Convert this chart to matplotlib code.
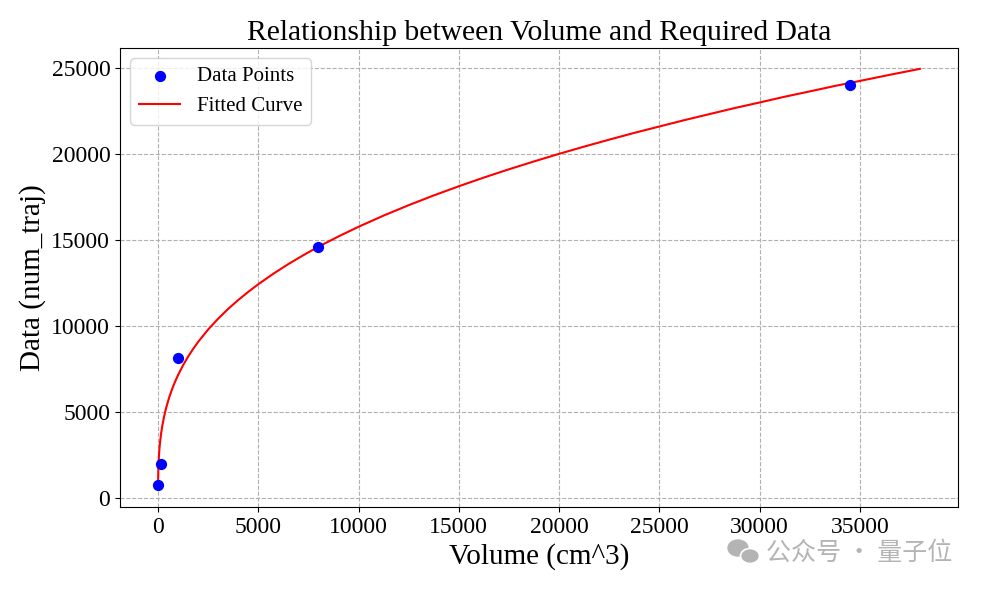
import matplotlib
matplotlib.use("Agg")
import matplotlib.pyplot as plt
from matplotlib.patches import Ellipse

# Data points
volume = [1, 125, 1000, 8000, 34500]
num_traj = [750, 1950, 8100, 14600, 24000]

# Fitted curve
curve_x = [1, 5, 10, 20, 30, 50, 75, 100, 150, 200, 300, 400, 550, 700, 850,
           1000, 1250, 1500, 1750, 2000, 2500, 3000, 3500, 4000, 4500, 5000,
           5750, 6500, 7250, 8000, 9000, 10000, 11250, 12500, 13750, 15000,
           16250, 17500, 18750, 20000, 21250, 22500, 23750, 25000, 26250,
           27500, 28750, 30000, 31250, 32500, 33750, 35000, 36500, 38000]
curve_y = [663, 1153, 1464, 1858, 2136, 2547, 2928, 3232, 3716, 4103, 4717,
           5207, 5811, 6313, 6749, 7135, 7706, 8205, 8652, 9059, 9783, 10414,
           10983, 11498, 11972, 12415, 13027, 13590, 14107, 14600, 15197,
           15760, 16410, 17016, 17583, 18117, 18624, 19105, 19562, 20003,
           20424, 20830, 21223, 21595, 21965, 22316, 22666, 22992, 23327,
           23637, 23953, 24247, 24605, 24950]

plt.rcParams['font.family'] = ['Liberation Serif', 'DejaVu Serif']

fig = plt.figure(figsize=(9.84, 5.92), dpi=100)
ax = fig.add_axes([120/984, 1-507/592, 838/984, 459/592])

ax.scatter(volume, num_traj, color='blue', s=50, label='Data Points', zorder=3)
ax.plot(curve_x, curve_y, color='red', lw=1.5, label='Fitted Curve', zorder=2)

ax.set_title('Relationship between Volume and Required Data', fontsize=21.3)
ax.set_xlabel('Volume (cm^3)', fontsize=21)
ax.set_ylabel('Data (num_traj)', fontsize=21)
ax.tick_params(labelsize=17)
ax.grid(True, linestyle='--', color='#b0b0b0', lw=0.8)
ax.legend(loc='upper left', fontsize=15)

# watermark
fig.text(952/984, 1-553/592, '公众号 · 量子位', ha='right', va='center', color='#b4b4b4',
         fontsize=18, family=['Noto Sans CJK SC', 'DejaVu Sans'])
fig.patches.append(Ellipse((738/984, 1-548/592), 20/984, 16/592, color='#b4b4b4',
                           transform=fig.transFigure, figure=fig))
fig.patches.append(Ellipse((750/984, 1-556/592), 19/984, 15/592, color='#b4b4b4',
                           ec='white', lw=1.2, transform=fig.transFigure, figure=fig))

fig.savefig('out.png', dpi=100)
